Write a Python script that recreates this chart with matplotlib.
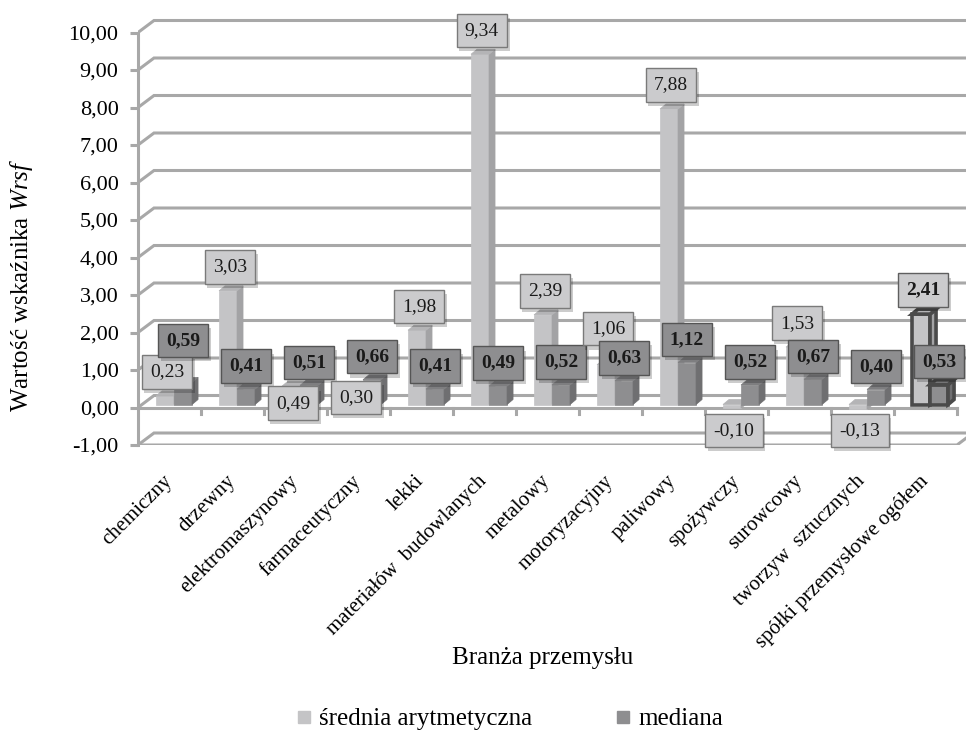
import matplotlib
matplotlib.use("Agg")
import matplotlib.pyplot as plt
import matplotlib.patheffects as pe
from matplotlib.patches import Polygon
from matplotlib.lines import Line2D

branze = ['chemiczny', 'drzewny', 'elektromaszynowy', 'farmaceutyczny',
          'lekki', 'materiałów  budowlanych', 'metalowy', 'motoryzacyjny',
          'paliwowy', 'spożywczy', 'surowcowy', 'tworzyw  sztucznych',
          'spółki przemysłowe ogółem']
srednia = [0.23, 3.03, 0.49, 0.30, 1.98, 9.34, 2.39, 1.06, 7.88, -0.10,
           1.53, -0.13, 2.41]
mediana = [0.59, 0.41, 0.51, 0.66, 0.41, 0.49, 0.52, 0.63, 1.12, 0.52,
           0.67, 0.40, 0.53]
y_ticks = list(range(-1, 11))

plt.rcParams['font.family'] = 'serif'
plt.rcParams['font.serif'] = ['Liberation Serif', 'DejaVu Serif']
plt.rcParams['mathtext.fontset'] = 'custom'
plt.rcParams['mathtext.it'] = 'Liberation Serif:italic'
plt.rcParams['mathtext.rm'] = 'Liberation Serif'

GRID = '#a8a8a8'
LIGHT = ('#c4c4c6', '#a3a3a5', '#b4b4b6')   # front, side, top
DARK = ('#8e8e90', '#6f6f71', '#7e7e80')

# pixel -> data unit helpers (63 px per category, 37.5 px per unit)
PX = 1 / 63
PY = 1 / 37.5
WALL_DX, WALL_DY = 16 * PX, 12 * PY
BAR_DX, BAR_DY = 6 * PX, 5 * PY
BAR_SHIFT = 3 * PY
BAR_W = 0.286

fig = plt.figure(figsize=(9.66, 7.33), dpi=100)
ax = fig.add_axes([138 / 966, (733 - 445) / 733, 828 / 966, 427.5 / 733])
ax.set_xlim(0, 828 / 63)
ax.set_ylim(-1, -1 + 427.5 / 37.5)

for s in ['top', 'right', 'bottom']:
    ax.spines[s].set_visible(False)
ax.spines['left'].set_bounds(-1, 10)
ax.spines['left'].set_color(GRID)
ax.spines['left'].set_linewidth(2.2)
ax.set_yticks(y_ticks)
ax.set_yticklabels([f"{v:.2f}".replace('.', ',') for v in y_ticks],
                   fontsize=16)
ax.tick_params(axis='y', direction='out', length=6, width=2.2, color=GRID,
               pad=8)

n = len(branze)
ax.set_xticks([i + 0.5 for i in range(n)])
ax.set_xticklabels(branze, rotation=45, ha='right', va='center',
                   rotation_mode='anchor', fontsize=15)
ax.tick_params(axis='x', length=0, pad=24)

# walls: gridlines with the left-wall diagonal
xmax = ax.get_xlim()[1]
for v in y_ticks:
    ax.plot([0, WALL_DX, xmax], [v, v + WALL_DY, v + WALL_DY],
            color=GRID, lw=2.2, zorder=1, solid_joinstyle='miter')
# floor front edge and category axis
ax.plot([0, n, n + WALL_DX], [-1, -1, -1 + WALL_DY], color=GRID, lw=2.2,
        zorder=1)
ax.plot([0, n], [0, 0], color=GRID, lw=2.2, zorder=2)
for i in range(1, n + 1):
    ax.plot([i, i], [0, -6 * PY], color=GRID, lw=2.2, zorder=2)


def bar3d(x0, v, colors, edge=None):
    b = min(0, v) + BAR_SHIFT
    t = max(0, v) + BAR_SHIFT
    x1 = x0 + BAR_W
    faces = [
        ([(x0, b), (x1, b), (x1, t), (x0, t)], colors[0]),
        ([(x1, b), (x1 + BAR_DX, b + BAR_DY), (x1 + BAR_DX, t + BAR_DY),
          (x1, t)], colors[1]),
        ([(x0, t), (x0 + BAR_DX, t + BAR_DY), (x1 + BAR_DX, t + BAR_DY),
          (x1, t)], colors[2]),
    ]
    for pts, c in faces:
        ax.add_patch(Polygon(pts, closed=True, facecolor=c,
                             edgecolor=edge if edge else c,
                             lw=2.6 if edge else 0.5, zorder=3,
                             joinstyle='miter'))


def fmt(v):
    return f"{v:.2f}".replace('.', ',')


def label(x, v, off_px, fill, border, bold):
    t = ax.annotate(fmt(v), xy=(x, v), xytext=(0, off_px * 0.72),
                    textcoords='offset points', ha='center', va='center',
                    fontsize=14, fontweight='bold' if bold else 'normal',
                    color='#1a1a1a', zorder=5,
                    bbox=dict(boxstyle='square,pad=0.42', fc=fill,
                              ec=border, lw=1.0))
    # soft drop shadow under the box
    t.get_bbox_patch().set_path_effects([
        pe.SimplePatchShadow(offset=(2, -3), shadow_rgbFace='black',
                             alpha=0.2),
        pe.Normal()])


# label offsets in pixels (positive = above the bar top)
light_off = {2: -14, 3: -1, 7: 39, 9: -19, 11: -18}
dark_off = {0: 45}

for i in range(n):
    edge = '#4a4a4a' if i == n - 1 else None
    bar3d(i + BAR_W, srednia[i], LIGHT, edge)
    bar3d(i + 2 * BAR_W, mediana[i], DARK, edge)

for i in range(n):
    total = i == n - 1
    label(i + 1.5 * BAR_W + 0.03, srednia[i], light_off.get(i, 27),
          '#cbcbcd', '#5f5f5f' if total else '#7a7a7a', total)
    label(i + 2.5 * BAR_W, mediana[i], dark_off.get(i, 26),
          '#8e8e90', '#555555', True)

fig.text(22 / 966, 1 - 285 / 733, r'Wartość wskaźnika $\mathit{Wrsf}$',
         rotation=90, ha='center', va='center', fontsize=18)
fig.text(543 / 966, 1 - 658 / 733, 'Branża przemysłu', ha='center',
         va='center', fontsize=18)

handles = [Line2D([], [], ls='none', marker='s', markersize=9,
                  mfc=LIGHT[0], mec=LIGHT[0]),
           Line2D([], [], ls='none', marker='s', markersize=9,
                  mfc=DARK[0], mec=DARK[0])]
fig.legend(handles, ['średnia arytmetyczna', 'mediana'], loc='center',
           bbox_to_anchor=(509 / 966, 1 - 719 / 733), ncol=2, frameon=False,
           fontsize=18, handlelength=0.7, handletextpad=0.25,
           columnspacing=3.3)

fig.savefig('out.png', dpi=100)
